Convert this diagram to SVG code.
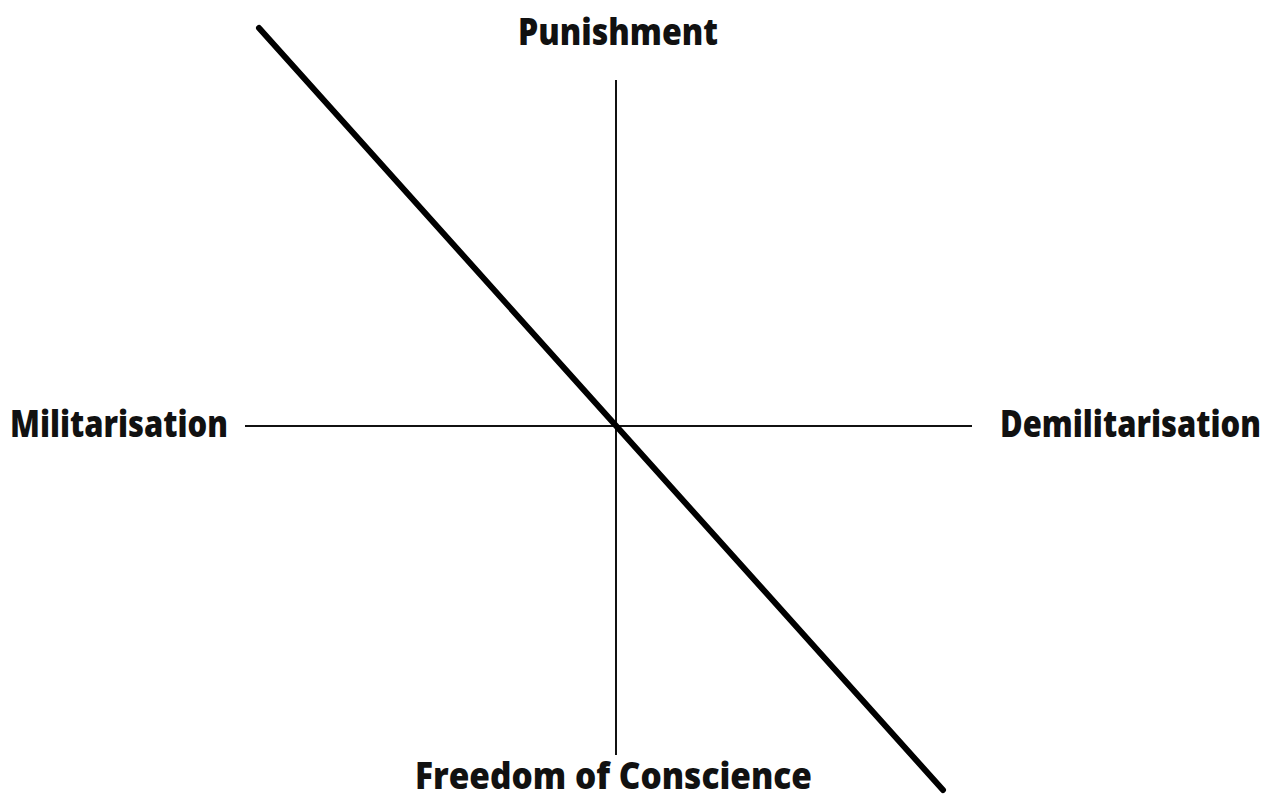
<svg xmlns="http://www.w3.org/2000/svg" width="1273" height="794" viewBox="0 0 1273 794">
<style>
.lbl{font-family:"Open Sans","Noto Sans","Liberation Sans",sans-serif;font-weight:800;font-size:37px;fill:#111;}
.axis{stroke:#111;stroke-width:2;fill:none;}
.diag{stroke:#000;stroke-width:6;fill:none;stroke-linecap:round;}
</style>
<rect width="1273" height="794" fill="#fff"/>
<g id="connectors">
<line class="axis" x1="616" y1="80" x2="616" y2="755"/>
<line class="axis" x1="245" y1="426" x2="972" y2="426"/>
<line class="diag" x1="259" y1="28" x2="943" y2="790"/>
</g>
<g id="punishment"><text class="lbl" x="518" y="45" textLength="200" lengthAdjust="spacingAndGlyphs">Punishment</text></g>
<g id="militarisation"><text class="lbl" x="10" y="437" textLength="218" lengthAdjust="spacingAndGlyphs">Militarisation</text></g>
<g id="demilitarisation"><text class="lbl" x="1000" y="437" textLength="261" lengthAdjust="spacingAndGlyphs">Demilitarisation</text></g>
<g id="freedom"><text class="lbl" x="415" y="789" textLength="397" lengthAdjust="spacingAndGlyphs">Freedom of Conscience</text></g>
</svg>
